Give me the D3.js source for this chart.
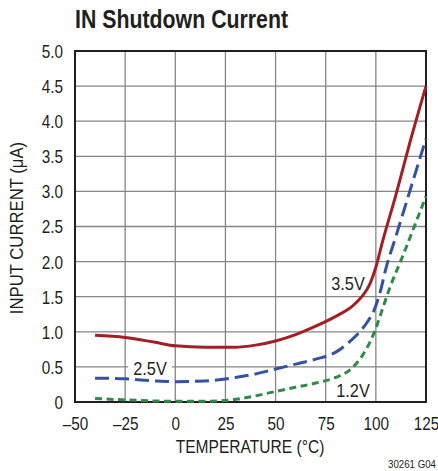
<!DOCTYPE html>
<html><head><meta charset="utf-8">
<script src="https://cdn.jsdelivr.net/npm/d3@7"></script>
<style>
body{margin:0;background:#fff;}
text{font-family:"Liberation Sans Narrow","Arial Narrow","Liberation Sans",Arial,sans-serif;fill:#231f20;}
</style></head><body>
<svg id="c" width="438" height="471"></svg>
<script>
const xTicks = [-50,-25,0,25,50,75,100,125];
const xTickLabels = ["\u201350","\u201325","0","25","50","75","100","125"];
const yTicks = [0,0.5,1,1.5,2,2.5,3,3.5,4,4.5,5];
const yTickLabels = ["0","0.5","1.0","1.5","2.0","2.5","3.0","3.5","4.0","4.5","5.0"];

const tRed = [-40,-25,-10,0,15,30,40,50,60,70,80,88,93,97,100,103,110,117,125];
const vRed = [0.95,0.92,0.85,0.80,0.78,0.78,0.81,0.87,0.96,1.08,1.22,1.36,1.50,1.68,1.92,2.25,2.95,3.70,4.50];
const tBlue = [-40,-25,-10,0,15,30,40,50,60,70,80,87,92,96,99,102,105,110,117,125];
const vBlue = [0.34,0.33,0.30,0.29,0.30,0.35,0.40,0.47,0.54,0.61,0.71,0.86,1.00,1.15,1.30,1.55,1.90,2.36,3.01,3.75];
const tGreen = [-40,-25,-10,0,15,25,35,50,60,70,80,88,93,97,100,103,107,113,120,125];
const vGreen = [0.05,0.03,0.015,0.01,0.01,0.02,0.06,0.15,0.21,0.27,0.35,0.48,0.65,0.85,1.05,1.30,1.63,2.05,2.56,2.93];

const svg = d3.select("#c");
const L=75, R=426, T=51, B=402;
const x = d3.scaleLinear().domain([-50,125]).range([L,R]);
const y = d3.scaleLinear().domain([0,5]).range([B,T]);

function txt(px,py,str,size,sx,anchor,weight,rot){
  const g = svg.append("g").attr("transform",`translate(${px},${py})`+(rot?` rotate(${rot})`:"")+` scale(${sx},1)`);
  const t = g.append("text").attr("font-size",size).attr("text-anchor",anchor||"start").text(str);
  if(weight) t.attr("font-weight",weight);
  return t;
}

// title
txt(75,28,"IN Shutdown Current",26,0.82,"start","bold");

// grid
const g = svg.append("g");
g.selectAll(".vg").data(xTicks.slice(1,-1)).enter().append("line")
 .attr("x1",d=>x(d)).attr("x2",d=>x(d)).attr("y1",T).attr("y2",B)
 .attr("stroke","#858585").attr("stroke-width",1.3);
g.selectAll(".hg").data(yTicks.slice(1,-1)).enter().append("line")
 .attr("x1",L).attr("x2",R).attr("y1",d=>y(d)).attr("y2",d=>y(d))
 .attr("stroke","#858585").attr("stroke-width",1.3);

// label background
svg.append("rect").attr("x",128).attr("y",358).attr("width",44).attr("height",19).attr("fill","#fff");

// frame
svg.append("rect").attr("x",L).attr("y",T).attr("width",R-L).attr("height",B-T)
 .attr("fill","none").attr("stroke","#231f20").attr("stroke-width",2);

// axes (labels only)
const xa = d3.axisBottom(x).tickValues(xTicks).tickFormat((d,i)=>xTickLabels[i]).tickSize(0).tickPadding(0);
const gx = svg.append("g").attr("transform",`translate(0,${B})`).call(xa);
gx.select(".domain").remove();
gx.selectAll("text").attr("font-size",18).attr("fill","#231f20").attr("font-family",null)
  .attr("dy",null).attr("y",28).attr("transform","scale(0.85,1)");

const ya = d3.axisLeft(y).tickValues(yTicks).tickFormat((d,i)=>yTickLabels[i]).tickSize(0).tickPadding(0);
const gy = svg.append("g").attr("transform",`translate(${L},0)`).call(ya);
gy.select(".domain").remove();
gy.selectAll("text").attr("font-size",18).attr("fill","#231f20").attr("font-family",null)
  .attr("x",-12/0.85).attr("dy","0.36em").attr("transform","scale(0.85,1)");

// axis titles
txt(250,453,"TEMPERATURE (\u00B0C)",19,0.82,"middle");
txt(23,228,"INPUT CURRENT (\u03BCA)",19,0.88,"middle",null,-90);
txt(436,468,"30261 G04",11,0.88,"end");

// curves
const line = d3.line().x(d=>x(d[0])).y(d=>y(d[1])).curve(d3.curveMonotoneX);
const series = [
 {t:tRed,v:vRed,c:"#a31f24",dash:null},
 {t:tBlue,v:vBlue,c:"#3452a4",dash:"14,6"},
 {t:tGreen,v:vGreen,c:"#2e8b47",dash:"7,4.5"}
];
series.forEach(s=>{
 svg.append("path").datum(s.t.map((t,i)=>[t,s.v[i]]))
  .attr("d",line).attr("fill","none").attr("stroke",s.c).attr("stroke-width",3)
  .attr("stroke-dasharray",s.dash);
});

// curve labels
txt(150,375,"2.5V",19,0.86,"middle");
txt(348,290,"3.5V",19,0.86,"middle");
txt(353,397,"1.2V",19,0.86,"middle");
</script>
</body></html>
